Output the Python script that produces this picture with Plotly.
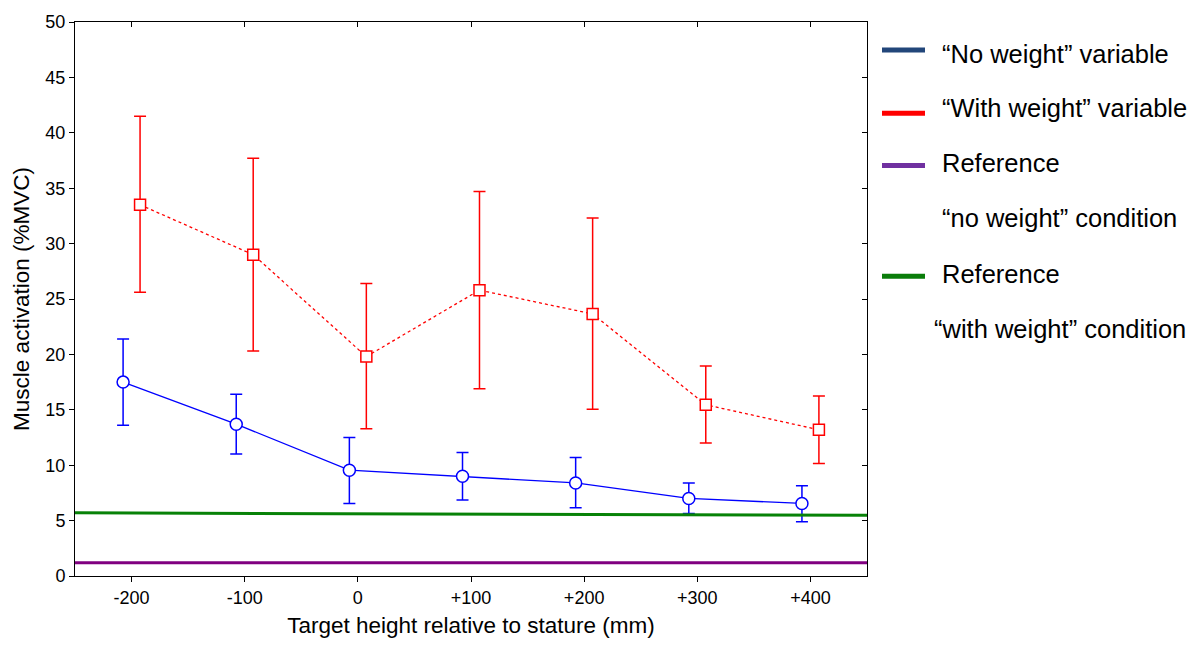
import plotly.graph_objects as go

# Data
heights = [-200, -100, 0, 100, 200, 300, 400]
tick_labels = ["-200", "-100", "0", "+100", "+200", "+300", "+400"]
offset = 7.5

no_weight_mean = [17.5, 13.7, 9.55, 9.0, 8.4, 7.0, 6.55]
no_weight_upper = [21.4, 16.4, 12.5, 11.15, 10.7, 8.4, 8.15]
no_weight_lower = [13.6, 11.0, 6.55, 6.85, 6.15, 5.65, 4.9]

with_weight_mean = [33.5, 29.0, 19.8, 25.8, 23.65, 15.45, 13.2]
with_weight_upper = [41.5, 37.7, 26.4, 34.7, 32.3, 18.95, 16.25]
with_weight_lower = [25.6, 20.3, 13.3, 16.9, 15.05, 12.0, 10.15]

ref_x = [-250, 450]
ref_no_weight = [1.2, 1.2]
ref_with_weight = [5.7, 5.48]

legend_labels = ["“No weight” variable", "“With weight” variable", "Reference",
                 "“no weight” condition", "Reference", "“with weight” condition"]
legend_colors = ["#22467a", "#ff0000", "#7030a0", None, "#0a7d0a", None]

FONT = "Liberation Sans, Arial, sans-serif"

fig = go.Figure()

xb = [h - offset for h in heights]
xr = [h + offset for h in heights]

fig.add_trace(go.Scatter(
    x=xb, y=no_weight_mean, mode="lines+markers",
    line=dict(color="#0000ff", width=1.3),
    marker=dict(symbol="circle", size=12, color="white", line=dict(color="#0000ff", width=1.5)),
    error_y=dict(type="data", symmetric=False,
                 array=[u - m for u, m in zip(no_weight_upper, no_weight_mean)],
                 arrayminus=[m - l for m, l in zip(no_weight_mean, no_weight_lower)],
                 color="#0000ff", thickness=1.5, width=6),
    showlegend=False))

fig.add_trace(go.Scatter(
    x=xr, y=with_weight_mean, mode="lines+markers",
    line=dict(color="#ff0000", width=1.3, dash="dot"),
    marker=dict(symbol="square", size=11, color="white", line=dict(color="#ff0000", width=1.5)),
    error_y=dict(type="data", symmetric=False,
                 array=[u - m for u, m in zip(with_weight_upper, with_weight_mean)],
                 arrayminus=[m - l for m, l in zip(with_weight_mean, with_weight_lower)],
                 color="#ff0000", thickness=1.5, width=6),
    showlegend=False))

fig.add_trace(go.Scatter(x=ref_x, y=ref_with_weight, mode="lines",
                         line=dict(color="#078207", width=3), showlegend=False))
fig.add_trace(go.Scatter(x=ref_x, y=ref_no_weight, mode="lines",
                         line=dict(color="#800080", width=3), showlegend=False))

# invisible trace for mirrored axes
fig.add_trace(go.Scatter(x=[None], y=[None], xaxis="x2", yaxis="y2", showlegend=False))

# Custom legend (pixel rows converted to paper coordinates)
PL, PW, PB, PH = 75, 792, 68, 562
def px(x):
    return (x - PL) / PW
def py(y):
    return (645 - y - PB) / PH

legend_line_y = [43.5, 107.5, 160.5, None, 273, None]
legend_text_y = [47, 102, 158.5, 214, 270.5, 326.5]
legend_text_x = [940, 940, 940, 940, 940, 932]
for lab, col, ly, ty, tx in zip(legend_labels, legend_colors, legend_line_y, legend_text_y, legend_text_x):
    if col:
        fig.add_shape(type="line", xref="paper", yref="paper",
                      x0=px(882), x1=px(925), y0=py(ly), y1=py(ly),
                      line=dict(color=col, width=5))
    fig.add_annotation(x=px(tx), y=py(ty), xref="paper", yref="paper",
                       text=lab, showarrow=False, xanchor="left", yanchor="middle",
                       font=dict(family=FONT, size=25.5, color="black"))

axis_common = dict(showgrid=False, zeroline=False, showline=True, linecolor="black", linewidth=1,
                   tickcolor="black", ticklen=5, tickwidth=1)

fig.update_layout(
    width=1200, height=645,
    margin=dict(l=75, r=333, t=15, b=68),
    paper_bgcolor="white", plot_bgcolor="white",
    font=dict(family=FONT, size=18, color="black"),
    xaxis=dict(range=[-250, 450], tickvals=heights, ticktext=tick_labels, ticks="outside",
               title=dict(text="Target height relative to stature (mm)", font=dict(size=22.5), standoff=10),
               **axis_common),
    yaxis=dict(range=[0, 50], tickvals=list(range(0, 51, 5)), ticks="outside",
               title=dict(text="Muscle activation (%MVC)", font=dict(size=22.5), standoff=9),
               **axis_common),
    xaxis2=dict(range=[-250, 450], overlaying="x", side="top", tickvals=heights, ticks="inside",
                showticklabels=False, **axis_common),
    yaxis2=dict(range=[0, 50], overlaying="y", side="right", tickvals=list(range(0, 51, 5)),
                ticks="inside", showticklabels=False, **axis_common),
)

fig.write_html("out.html")
